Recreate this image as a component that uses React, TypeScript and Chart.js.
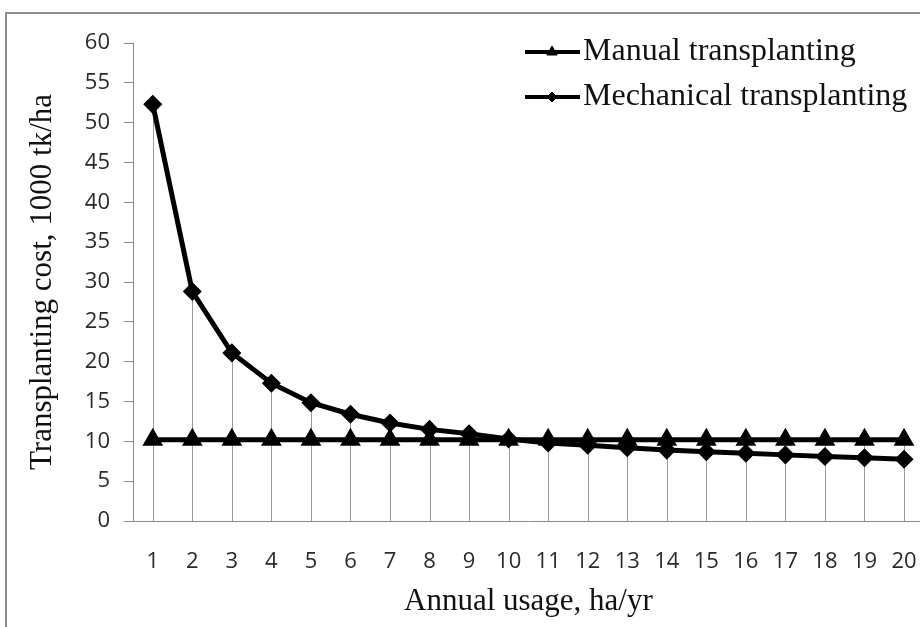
import React, { useEffect, useRef } from "react";
import { Chart, registerables } from "chart.js";
import { drawPoint } from "chart.js/helpers";

Chart.register(...registerables);

const categories = ["1", "2", "3", "4", "5", "6", "7", "8", "9", "10", "11", "12", "13", "14", "15", "16", "17", "18", "19", "20"];
const manualCost = [10.2, 10.2, 10.2, 10.2, 10.2, 10.2, 10.2, 10.2, 10.2, 10.2, 10.2, 10.2, 10.2, 10.2, 10.2, 10.2, 10.2, 10.2, 10.2, 10.2];
const mechanicalCost = [52.3, 28.8, 21.1, 17.3, 14.85, 13.4, 12.3, 11.5, 10.95, 10.3, 9.8, 9.5, 9.2, 8.9, 8.7, 8.5, 8.3, 8.1, 7.95, 7.75];
const seriesLabels = ["Manual transplanting", "Mechanical transplanting"];
const yMin = 0;
const yMax = 60;
const yStep = 5;
const xTitle = "Annual usage, ha/yr";
const yTitle = "Transplanting cost, 1000 tk/ha";

const SERIF = '"Liberation Serif", "Times New Roman", serif';
const SANS = '"Open Sans", Lato, sans-serif';

const dropLinesPlugin = {
  id: "dropLines",
  beforeDatasetsDraw(chart: any) {
    const { ctx, scales } = chart;
    const x = scales.x;
    const y = scales.y;
    const ds = chart.data.datasets;
    ctx.save();
    ctx.strokeStyle = "#9a9a9a";
    ctx.lineWidth = 1;
    for (let i = 0; i < chart.data.labels.length; i++) {
      const top = Math.max(...ds.map((d: any) => d.data[i]));
      const px = Math.round(x.getPixelForValue(i)) + 0.5;
      ctx.beginPath();
      ctx.moveTo(px, y.getPixelForValue(top));
      ctx.lineTo(px, y.getPixelForValue(0));
      ctx.stroke();
    }
    ctx.restore();
  },
};

const legendPlugin = {
  id: "customLegend",
  afterDraw(chart: any) {
    const { ctx } = chart;
    const rows = [52, 97];
    ctx.save();
    chart.data.datasets.forEach((d: any, i: number) => {
      const yy = rows[i];
      ctx.strokeStyle = "#000";
      ctx.lineWidth = 4;
      ctx.beginPath();
      ctx.moveTo(525, yy);
      ctx.lineTo(580, yy);
      ctx.stroke();
      ctx.fillStyle = "#000";
      ctx.strokeStyle = "#000";
      ctx.lineWidth = 1;
      drawPoint(ctx, { pointStyle: d.pointStyle, radius: d.pointRadius - 1, rotation: 0, borderWidth: 1 } as any, 552, yy);
      ctx.fillStyle = "#111";
      ctx.font = `32px ${SERIF}`;
      ctx.textAlign = "left";
      ctx.textBaseline = "middle";
      ctx.fillText(d.label, 583, yy);
    });
    ctx.restore();
  },
};

export default function App() {
  const canvasRef = useRef<HTMLCanvasElement | null>(null);

  useEffect(() => {
    if (!canvasRef.current) return;
    const chart = new Chart(canvasRef.current, {
      type: "line",
      data: {
        labels: categories,
        datasets: [
          {
            label: seriesLabels[0],
            data: manualCost,
            borderColor: "#000",
            backgroundColor: "#000",
            borderWidth: 5,
            pointStyle: "triangle",
            pointRadius: 7,
            pointBackgroundColor: "#000",
            pointBorderColor: "#000",
            tension: 0,
          },
          {
            label: seriesLabels[1],
            data: mechanicalCost,
            borderColor: "#000",
            backgroundColor: "#000",
            borderWidth: 5,
            pointStyle: "rectRot",
            pointRadius: 6,
            pointBackgroundColor: "#000",
            pointBorderColor: "#000",
            tension: 0,
          },
        ],
      },
      options: {
        responsive: false,
        animation: false,
        layout: { padding: { left: 5, top: 43, right: 16, bottom: 0 } },
        plugins: { legend: { display: false }, tooltip: { enabled: false } },
        scales: {
          x: {
            offset: true,
            grid: { display: false, drawTicks: false },
            border: { display: true, color: "#8a8a8a", width: 1 },
            ticks: { font: { family: SANS, size: 22 }, color: "#2a2a2a", padding: 28, maxRotation: 0, autoSkip: false },
            title: { display: true, text: xTitle, font: { family: SERIF, size: 31 }, color: "#111", padding: { top: 7, bottom: 7 } },
            afterFit(scale: any) {
              scale.height = 106;
            },
          },
          y: {
            min: yMin,
            max: yMax,
            ticks: { stepSize: yStep, font: { family: SANS, size: 22 }, color: "#2a2a2a", padding: 14 },
            grid: { drawOnChartArea: false, drawTicks: true, tickLength: 9, color: "#8a8a8a" },
            border: { display: true, color: "#8a8a8a", width: 1 },
            title: { display: true, text: yTitle, font: { family: SERIF, size: 31 }, color: "#111", padding: { top: 19, bottom: 19 } },
            afterFit(scale: any) {
              scale.width = 128;
            },
          },
        },
      },
      plugins: [dropLinesPlugin, legendPlugin],
    } as any);
    return () => chart.destroy();
  }, []);

  return (
    <div style={{ position: "absolute", left: 0, top: 0, width: 920, height: 627, overflow: "hidden", background: "#fff" }}>
      <div style={{ position: "absolute", left: 5, top: 12, width: 950, height: 650, border: "2px solid #8c8c8c", boxSizing: "border-box" }} />
      <div style={{ position: "absolute", left: 0, top: 0, width: 945, height: 627 }}>
        <canvas ref={canvasRef} width={945} height={627} />
      </div>
    </div>
  );
}
